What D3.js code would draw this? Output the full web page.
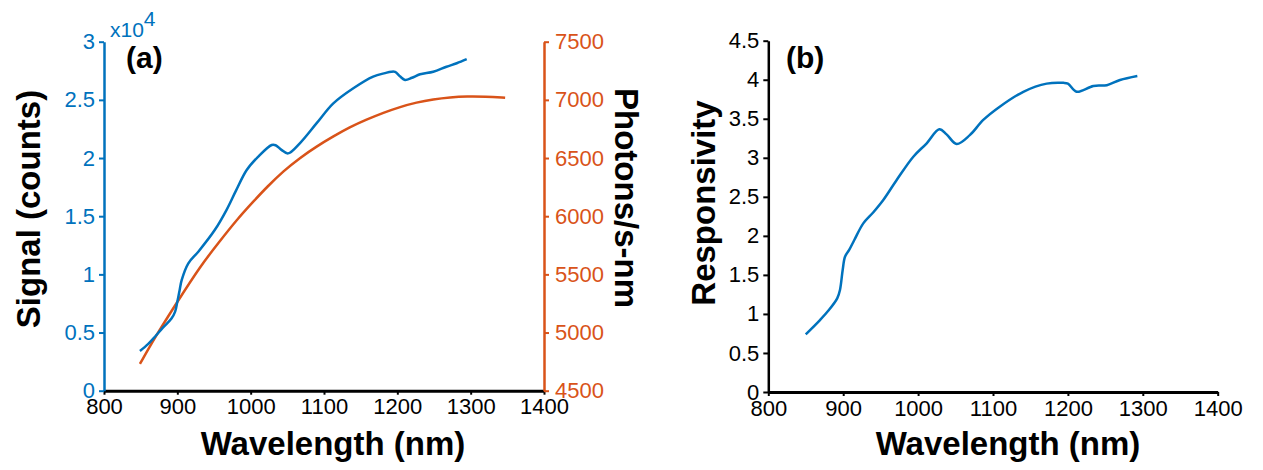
<!DOCTYPE html>
<html>
<head>
<meta charset="utf-8">
<script src="https://cdn.jsdelivr.net/npm/d3@7"></script>
<style>
  body { margin: 0; background: #fff; }
  text { font-family: "Liberation Sans", Arial, sans-serif; }
</style>
</head>
<body>
<script>
// panel (a): measured signal (counts) and lamp photon flux
let sigWave = [849, 860, 869.5, 880, 892, 897, 900, 903, 906, 915, 928.6, 951, 967, 980, 994.6, 1010, 1028.7, 1034, 1042, 1051, 1067, 1090, 1112.7, 1140, 1167, 1183, 1192, 1197, 1204, 1210.5, 1220, 1231, 1249, 1267, 1281, 1294.6]
let sigCounts = [3410, 4000, 4640, 5400, 6200, 6800, 7650, 8600, 9520, 10950, 11950, 13810, 15530, 17200, 18970, 20100, 21120, 21100, 20700, 20400, 21270, 23000, 24700, 26000, 27000, 27300, 27420, 27400, 27000, 26710, 26900, 27200, 27420, 27850, 28150, 28500]

let phWave = [849, 870, 900, 931, 956, 981, 1006, 1022, 1045, 1067, 1090, 1113, 1135, 1158, 1181, 1204, 1226, 1249, 1272, 1295, 1320, 1347]
let phFlux = [4730, 4965, 5264, 5568, 5770, 5970, 6142, 6250, 6390, 6501, 6600, 6687, 6765, 6831, 6890, 6940, 6978, 7005, 7022, 7030, 7028, 7018]

// panel (b): responsivity
let respWave = [850, 869, 880, 892, 895.7, 899.3, 902.4, 908, 915, 926.8, 940, 953.5, 971.4, 993.6, 1011.5, 1028.3, 1038, 1051.5, 1069, 1087, 1109, 1140.5, 1171.7, 1194, 1200, 1211.7, 1234, 1252, 1269.6, 1292.7]
let respVal = [0.739, 0.922, 1.04, 1.20, 1.307, 1.563, 1.733, 1.82, 1.95, 2.16, 2.30, 2.46, 2.716, 3.014, 3.186, 3.365, 3.30, 3.177, 3.29, 3.485, 3.655, 3.846, 3.95, 3.96, 3.95, 3.846, 3.92, 3.93, 3.997, 4.048]

let xTicks = [800, 900, 1000, 1100, 1200, 1300, 1400]
let sigTicks = [0, 5000, 10000, 15000, 20000, 25000, 30000]
let phTicks = [4500, 5000, 5500, 6000, 6500, 7000, 7500]
let respTicks = [0, 0.5, 1, 1.5, 2, 2.5, 3, 3.5, 4, 4.5]

const blue = '#0072BD'
const orange = '#D95319'

let width = 1263
let height = 470

let svg = d3.select('body')
  .append('svg')
  .attr('width', width)
  .attr('height', height)

let plain = d => String(+d.toFixed(2))

function styleAxis (g, color, size) {
  g.select('.domain').attr('stroke', color).attr('stroke-width', 2.5)
  g.selectAll('.tick line').attr('stroke', color).attr('stroke-width', 2)
  g.selectAll('.tick text').attr('fill', color).attr('font-size', size)
    .attr('font-family', '"Liberation Sans", Arial, sans-serif')
}

// ---------- panel (a) ----------
let xa = d3.scaleLinear().domain([800, 1400]).range([104, 544])
let ya = d3.scaleLinear().domain([0, 30000]).range([390.7, 41.7])
let yr = d3.scaleLinear().domain([4500, 7500]).range([390.7, 41.7])

let lineSig = d3.line()
  .x((d, i) => xa(sigWave[i]))
  .y(d => ya(d))
  .curve(d3.curveCatmullRom)
let linePh = d3.line()
  .x((d, i) => xa(phWave[i]))
  .y(d => yr(d))
  .curve(d3.curveBasis)

svg.append('path').datum(phFlux)
  .attr('d', linePh).attr('fill', 'none')
  .attr('stroke', orange).attr('stroke-width', 2.5)
svg.append('path').datum(sigCounts)
  .attr('d', lineSig).attr('fill', 'none')
  .attr('stroke', blue).attr('stroke-width', 2.5)

let gxa = svg.append('g').attr('transform', 'translate(0,390.7)')
  .call(d3.axisBottom(xa).tickValues(xTicks).tickSize(4).tickSizeOuter(0).tickPadding(4)
    .tickFormat(plain))
styleAxis(gxa, '#000', 22)
gxa.select('.domain').attr('stroke-width', 3)

let gya = svg.append('g').attr('transform', 'translate(104,0)')
  .call(d3.axisLeft(ya).tickValues(sigTicks).tickSize(5).tickSizeOuter(0).tickPadding(4)
    .tickFormat(d => plain(d / 10000)))
styleAxis(gya, blue, 22)

let gyr = svg.append('g').attr('transform', 'translate(544,0)')
  .call(d3.axisRight(yr).tickValues(phTicks).tickSize(5).tickSizeOuter(0).tickPadding(6)
    .tickFormat(plain))
styleAxis(gyr, orange, 22)

// exponent label
let expo = svg.append('text').attr('x', 110).attr('y', 37)
  .attr('fill', blue).attr('font-size', 21)
expo.append('tspan').text('x10')
expo.append('tspan').attr('dy', -11).text('4')

svg.append('text').attr('x', 126).attr('y', 68)
  .attr('font-size', 30).attr('font-weight', 'bold').text('(a)')

svg.append('text').attr('x', 333).attr('y', 455)
  .attr('text-anchor', 'middle').attr('font-size', 33).attr('font-weight', 'bold')
  .text('Wavelength (nm)')
svg.append('text').attr('transform', 'translate(40,209) rotate(-90)')
  .attr('text-anchor', 'middle').attr('font-size', 33).attr('font-weight', 'bold')
  .text('Signal (counts)')
svg.append('text').attr('transform', 'translate(615,198) rotate(90)')
  .attr('text-anchor', 'middle').attr('font-size', 33).attr('font-weight', 'bold')
  .text('Photons/s-nm')

// ---------- panel (b) ----------
let xb = d3.scaleLinear().domain([800, 1400]).range([768.3, 1217.7])
let yb = d3.scaleLinear().domain([0, 4.5]).range([392, 40.7])

let lineResp = d3.line()
  .x((d, i) => xb(respWave[i]))
  .y(d => yb(d))
  .curve(d3.curveCatmullRom)

svg.append('path').datum(respVal)
  .attr('d', lineResp).attr('fill', 'none')
  .attr('stroke', blue).attr('stroke-width', 2.5)

let gxb = svg.append('g').attr('transform', 'translate(0,392)')
  .call(d3.axisBottom(xb).tickValues(xTicks).tickSize(4).tickSizeOuter(0).tickPadding(4)
    .tickFormat(plain))
styleAxis(gxb, '#000', 22)
gxb.select('.domain').attr('stroke-width', 3)

let gyb = svg.append('g').attr('transform', 'translate(768.3,0)')
  .call(d3.axisLeft(yb).tickValues(respTicks).tickSize(5).tickSizeOuter(0).tickPadding(4)
    .tickFormat(plain))
styleAxis(gyb, '#000', 22)

svg.append('text').attr('x', 786).attr('y', 68)
  .attr('font-size', 30).attr('font-weight', 'bold').text('(b)')

svg.append('text').attr('x', 1008).attr('y', 455)
  .attr('text-anchor', 'middle').attr('font-size', 33).attr('font-weight', 'bold')
  .text('Wavelength (nm)')
svg.append('text').attr('transform', 'translate(715,203) rotate(-90)')
  .attr('text-anchor', 'middle').attr('font-size', 33).attr('font-weight', 'bold')
  .text('Responsivity')
</script>
</body>
</html>
